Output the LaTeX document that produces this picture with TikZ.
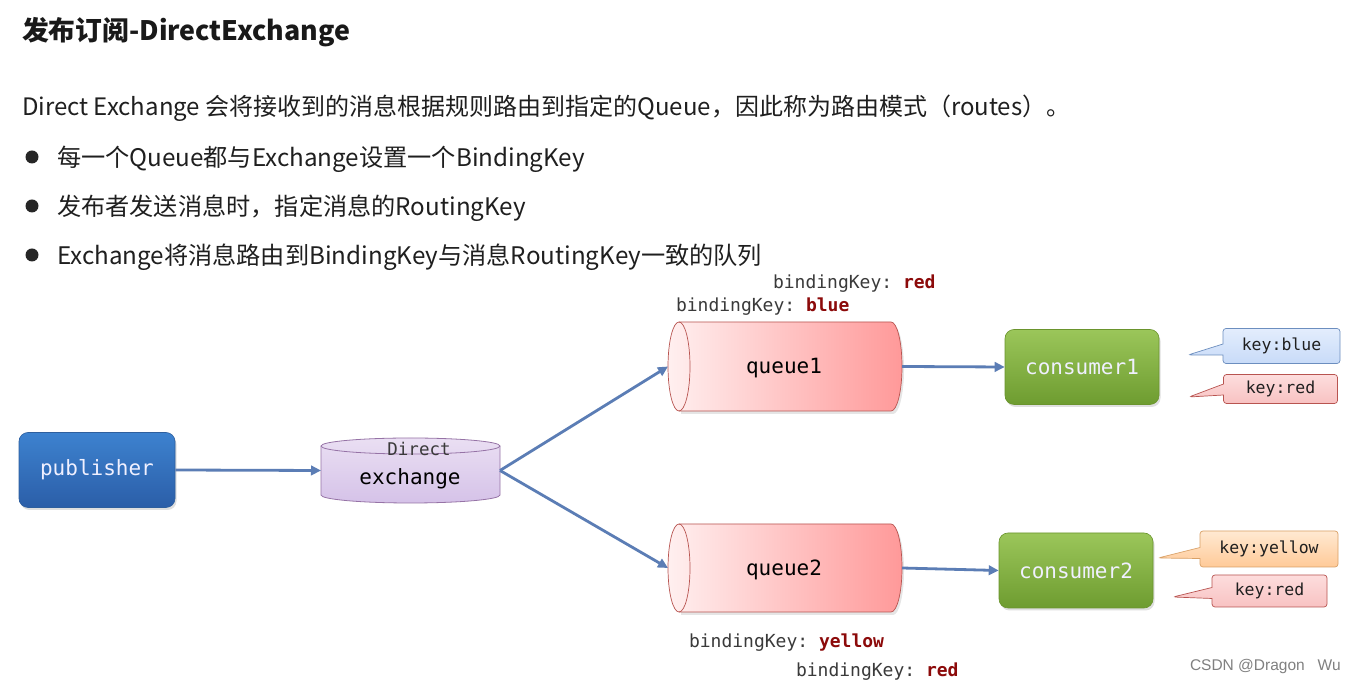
\documentclass[tikz,border=0pt]{standalone}
\usepackage{fontspec}
\setmainfont{Noto Sans CJK SC}
\setmonofont{DejaVu Sans Mono}
\newfontfamily\wmfont{Liberation Sans}
\usetikzlibrary{shapes.callouts,shadows,arrows.meta}
\definecolor{arrowblue}{HTML}{5B7DB5}
\definecolor{keyred}{HTML}{8C0A0A}
\definecolor{lblgray}{HTML}{3A3A3A}
\definecolor{exborder}{HTML}{9673A6}
\definecolor{extop}{HTML}{EADFF3}
\definecolor{exbot}{HTML}{D5C2E8}
\definecolor{qborder}{HTML}{B85450}
\definecolor{pubtop}{HTML}{3D82CF}
\definecolor{pubbot}{HTML}{2B5EA8}
\definecolor{pubedge}{HTML}{2E5F9E}
\definecolor{contop}{HTML}{9BC65A}
\definecolor{conbot}{HTML}{6E9C30}
\definecolor{conedge}{HTML}{6A942D}
\definecolor{bbtop}{HTML}{E3EDFD}
\definecolor{bbbot}{HTML}{C8DBF8}
\definecolor{bbedge}{HTML}{6C8EBF}
\definecolor{brtop}{HTML}{FDDDDD}
\definecolor{brbot}{HTML}{F8C2C2}
\definecolor{bytop}{HTML}{FFE9D2}
\definecolor{bybot}{HTML}{FFCA98}
\definecolor{byedge}{HTML}{D9A066}
\begin{document}
\begin{tikzpicture}[x=1pt,y=1pt,
  txt/.style={inner sep=0pt, outer sep=0pt, anchor=west},
  body/.style={font=\fontsize{24.2}{29}\selectfont, text=black!88},
  lbl/.style={font=\ttfamily\fontsize{18}{21}\selectfont, text=lblgray},
  mono/.style={font=\ttfamily\fontsize{21}{24}\selectfont},
  flow/.style={draw=arrowblue, line width=2.8pt, -{Triangle[length=10pt,width=9.5pt]}},
  solid box/.style={rounded corners=9pt, inner sep=0pt, minimum width=#1, minimum height=75pt,
     font=\ttfamily\fontsize{21}{24}\selectfont, text=white!94!blue,
     drop shadow={shadow xshift=1.5pt, shadow yshift=-2.5pt, opacity=0.25}},
  pubbox/.style={solid box=156pt, top color=pubtop, bottom color=pubbot, draw=pubedge, line width=0.6pt},
  conbox/.style={solid box=154pt, top color=contop, bottom color=conbot, draw=conedge, line width=0.6pt},
  anchorbox/.style={inner sep=0pt, outer sep=0pt, draw=none},
  queuefill/.style={left color=red!6, right color=red!40!white, draw=qborder, line width=0.7pt},
  bubble/.style={rectangle callout, rounded corners=3pt, inner sep=0pt, line width=0.7pt,
     callout pointer width=11pt,
     font=\ttfamily\fontsize{16.5}{19}\selectfont, text=black!88},
  bblue/.style={bubble, top color=bbtop, bottom color=bbbot, draw=bbedge},
  bred/.style={bubble, top color=brtop, bottom color=brbot, draw=qborder},
  byellow/.style={bubble, top color=bytop, bottom color=bybot, draw=byedge},
]
\useasboundingbox (0,0) rectangle (1356,684);
\fill[white] (0,0) rectangle (1356,684);

% texts
\node[txt, font=\bfseries\fontsize{26.8}{31}\selectfont, text=black!90] (title) at (22,652) {发布订阅-DirectExchange};
\node[txt, body, font=\fontsize{24}{29}\selectfont] (intro) at (22,576) {Direct Exchange 会将接收到的消息根据规则路由到指定的Queue，因此称为路由模式（routes）。};
\fill[black!85] (32,527) circle (6.5);
\fill[black!85] (32,478) circle (6.5);
\fill[black!85] (32,429) circle (6.5);
\node[txt, body] (b1) at (57,525) {每一个Queue都与Exchange设置一个BindingKey};
\node[txt, body] (b2) at (57,476) {发布者发送消息时，指定消息的RoutingKey};
\node[txt, body] (b3) at (57,427) {Exchange将消息路由到BindingKey与消息RoutingKey一致的队列};

% binding key labels
\node[txt, lbl] (bk1r) at (773,400.5) {bindingKey: \textbf{\color{keyred}red}};
\node[txt, lbl] (bk1b) at (676,377.5) {bindingKey: \textbf{\color{keyred}blue}};
\node[txt, lbl] (bk2y) at (689,41.5) {bindingKey: \textbf{\color{keyred}yellow}};
\node[txt, lbl] (bk2r) at (796,12.5) {bindingKey: \textbf{\color{keyred}red}};

% publisher
\node[pubbox] (pub) at (97,214) {publisher};

% exchange cylinder
\path[top color=extop, bottom color=exbot, draw=exborder, line width=0.8pt]
  (321,238) -- (321,189) arc[start angle=180, end angle=360, x radius=89.5, y radius=8]
  -- (500,238) arc[start angle=0, end angle=180, x radius=89.5, y radius=8] -- cycle;
\draw[exborder, line width=0.8pt] (321,238) arc[start angle=180, end angle=360, x radius=89.5, y radius=8];
\node[anchorbox, minimum width=179pt, minimum height=65pt] (ex) at (410.5,213.5) {};
\node[font=\ttfamily\fontsize{17.5}{20}\selectfont, text=lblgray, inner sep=0pt] (exdirect) at (419,235.5) {Direct};
\node[mono, inner sep=0pt] (exname) at (410,205) {exchange};

% queue1
\fill[black, opacity=0.10] (681,270) -- (893,270) arc[start angle=-90, end angle=90, x radius=11, y radius=44.5] -- (681,359) -- cycle;
\path[queuefill] (679,362) -- (891,362) arc[start angle=90, end angle=-90, x radius=11, y radius=44.5]
  -- (679,273) arc[start angle=270, end angle=90, x radius=11, y radius=44.5] -- cycle;
\draw[qborder, line width=0.7pt] (679,362) arc[start angle=90, end angle=-90, x radius=11, y radius=44.5];
\node[anchorbox, minimum width=234pt, minimum height=89pt] (q1) at (785,317.5) {};
\node[mono, inner sep=0pt] (q1name) at (784,316) {queue1};

% queue2
\fill[black, opacity=0.10] (681,69) -- (893,69) arc[start angle=-90, end angle=90, x radius=11, y radius=44] -- (681,157) -- cycle;
\path[queuefill] (679,160) -- (891,160) arc[start angle=90, end angle=-90, x radius=11, y radius=44]
  -- (679,72) arc[start angle=270, end angle=90, x radius=11, y radius=44] -- cycle;
\draw[qborder, line width=0.7pt] (679,160) arc[start angle=90, end angle=-90, x radius=11, y radius=44];
\node[anchorbox, minimum width=234pt, minimum height=88pt] (q2) at (785,116) {};
\node[mono, inner sep=0pt] (q2name) at (784,114.5) {queue2};

% consumers
\node[conbox] (c1) at (1082,317) {consumer1};
\node[conbox] (c2) at (1076,113.5) {consumer2};

% bubbles
\node[bblue, minimum width=117pt, minimum height=35pt, callout absolute pointer={(1188,329)}] (kb) at (1281.5,338) {key:blue};
\node[bred, minimum width=114pt, minimum height=29pt, callout absolute pointer={(1189,287)}] (kr1) at (1280.5,295) {key:red};
\node[byellow, minimum width=138pt, minimum height=36pt, callout absolute pointer={(1158,126)}] (ky) at (1269,135) {key:yellow};
\node[bred, minimum width=115pt, minimum height=32pt, callout absolute pointer={(1173,87)}] (kr2) at (1269.5,93) {key:red};

% connectors
\draw[flow] (pub.east) -- (ex.west);
\draw[flow] (ex.east) -- (q1.west);
\draw[flow] (ex.east) -- (q2.west);
\draw[flow] (q1.east) -- (c1.west);
\draw[flow] (q2.east) -- (c2.west);

% watermark
\node[txt, font=\wmfont\fontsize{15.5}{18}\selectfont, text=black!50] (wm) at (1190,17.5) {CSDN @Dragon\ \ \ Wu};
\end{tikzpicture}
\end{document}
